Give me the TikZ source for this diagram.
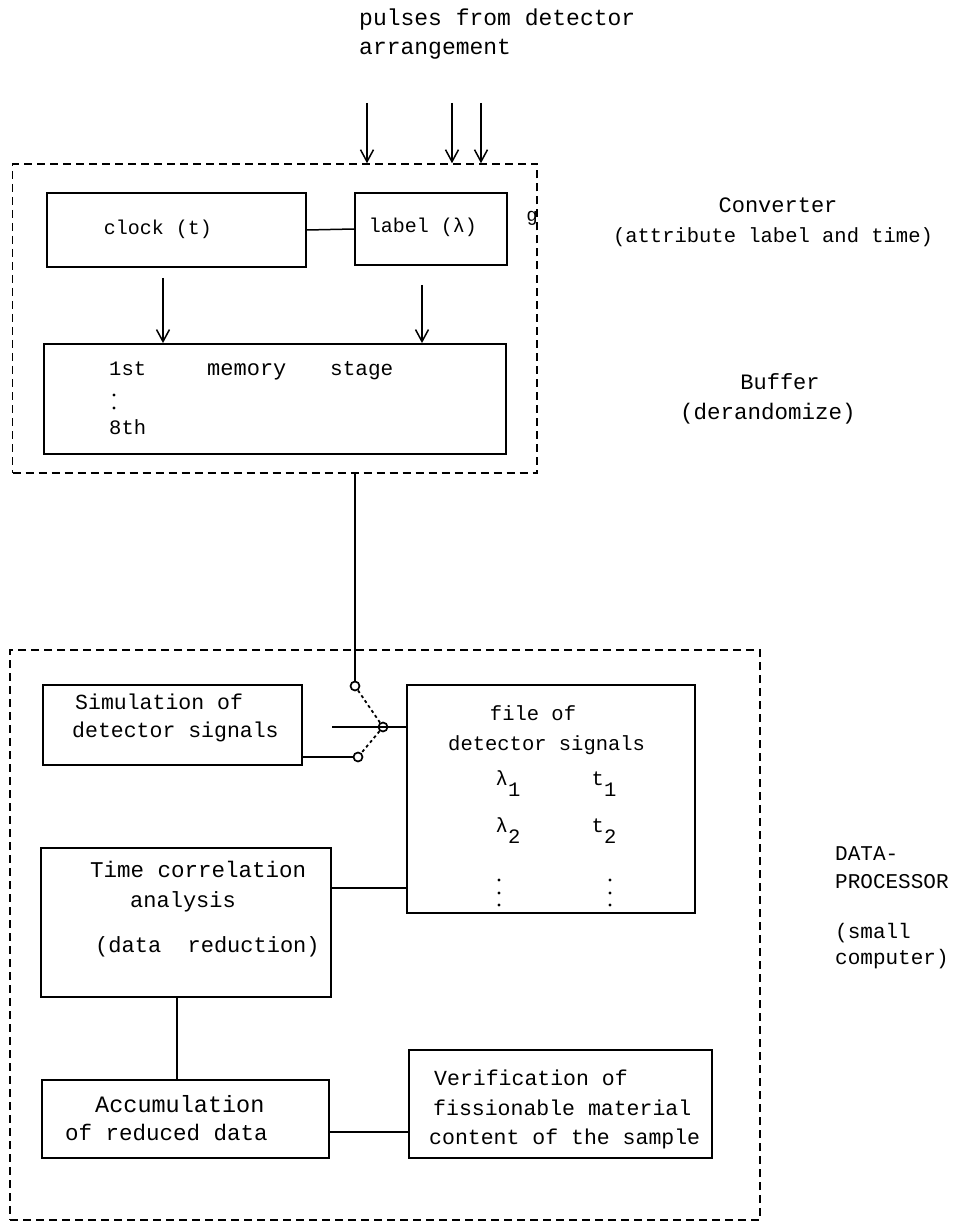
\documentclass[tikz,border=0pt]{standalone}
\usepackage{fontspec}
\setmainfont{Liberation Mono}
\usetikzlibrary{arrows.meta,calc}
\newcommand{\fs}[1]{\fontsize{#1}{#1}\selectfont}
\newcommand{\sbx}[2]{#1\raisebox{-0.55em}{#2}}
\begin{document}
\begin{tikzpicture}[x=1pt,y=-1pt,
  box/.style={draw, line width=1.8pt, inner sep=0pt},
  grp/.style={draw, line width=1.5pt, dash pattern=on 8pt off 5pt, inner sep=0pt},
  wire/.style={line width=1.5pt},
  arr/.style={line width=1.5pt, -{Straight Barb[length=12pt,width=13pt,line width=1.5pt]}},
  sw/.style={line width=1.8pt, dash pattern=on 3pt off 3pt},
  contact/.style={circle, draw, line width=1.7pt, minimum size=9pt, inner sep=0pt},
  txt/.style={inner sep=0pt, font=\fs{21}},
  ltxt/.style={txt, anchor=mid west},
  ctxt/.style={txt, anchor=mid},
  dot/.style={circle, fill, inner sep=0pt, minimum size=3.4pt},
]
\useasboundingbox[fill=white] (0,0) rectangle (971,1222);

% ---------- group boxes ----------
\node[grp, minimum width=524.5pt, minimum height=309pt] (conv) at (274.75,318.5) {};
\node[grp, minimum width=750pt, minimum height=570pt] (proc) at (385,935) {};

% ---------- converter / buffer ----------
\node[box, minimum width=259pt, minimum height=74pt] (clock) at (176.5,230) {};
\node[box, minimum width=152pt, minimum height=72pt] (label) at (431,229) {};
\node[box, minimum width=462.4pt, minimum height=110pt] (mem) at (274.8,399) {};

\node[ctxt, font=\fs{20}] (clockt) at (158,232) {clock (t)};
\node[ctxt, font=\fs{20}] (labelt) at (423,230) {label (λ)};
\node[ltxt, font=\fs{20.5}] (m1) at (109,373) {1st};
\node[ltxt, font=\fs{22}] (m2) at (207,373) {memory};
\node[ltxt, font=\fs{21}] (m3) at (330,373) {stage};
\node[dot] (md1) at (114,395) {};
\node[dot] (md2) at (114,408) {};
\node[ltxt, font=\fs{20.5}] (m8) at (109,432) {8th};
\node[ctxt, font=\fs{19}] (gmark) at (532,219) {g};

\draw[wire] (clock.east) -- (label.west);
\coordinate (ca) at (163,278);
\coordinate (la) at (422,285);
\draw[arr] (ca) -- (ca |- mem.north);
\draw[arr] (la) -- (la |- mem.north);

% ---------- input pulses ----------
\node[ltxt, font=\fs{23}] (pulses) at (359,23) {pulses from detector};
\node[ltxt, font=\fs{23}] (arrg) at (359,52) {arrangement};
\coordinate (p1) at (367,103);
\coordinate (p2) at (452,103);
\coordinate (p3) at (481,103);
\draw[arr] (p1) -- (p1 |- conv.north);
\draw[arr] (p2) -- (p2 |- conv.north);
\draw[arr] (p3) -- (p3 |- conv.north);

% ---------- right labels ----------
\node[ctxt, font=\fs{22}] (convl) at (778,210) {Converter};
\node[ctxt, font=\fs{20.5}] (convl2) at (773,240) {(attribute label and time)};
\node[ctxt, font=\fs{22}] (bufl) at (780,387) {Buffer};
\node[ctxt, font=\fs{22.5}] (bufl2) at (768,417) {(derandomize)};
\node[ltxt, font=\fs{21}] (dp1) at (835,858) {DATA-};
\node[ltxt, font=\fs{21}] (dp2) at (835,886) {PROCESSOR};
\node[ltxt, font=\fs{21}] (dp3) at (835,936) {(small};
\node[ltxt, font=\fs{21}] (dp4) at (835,962) {computer)};

% ---------- data processor ----------
\node[box, minimum width=259pt, minimum height=80pt] (sim) at (172.5,725) {};
\node[box, minimum width=288pt, minimum height=228pt] (file) at (551,799) {};
\node[box, minimum width=290pt, minimum height=149pt] (time) at (186,922.5) {};
\node[box, minimum width=287pt, minimum height=78pt] (acc) at (185.5,1119) {};
\node[box, minimum width=303pt, minimum height=108pt] (ver) at (560.5,1104) {};

\node[ltxt, font=\fs{21.5}] (s1) at (75,707) {Simulation of};
\node[ltxt, font=\fs{21.5}] (s2) at (72,735) {detector signals};

\node[ctxt, font=\fs{20.5}] (f1) at (533,718) {file of};
\node[ltxt, font=\fs{20.5}] (f2) at (448,748) {detector signals};
\node[ctxt, font=\fs{20.5}] (fl1) at (508,783) {\sbx{λ}{1}};
\node[ctxt, font=\fs{20.5}] (ft1) at (604,783) {\sbx{t}{1}};
\node[ctxt, font=\fs{20.5}] (fl2) at (508,830) {\sbx{λ}{2}};
\node[ctxt, font=\fs{20.5}] (ft2) at (604,830) {\sbx{t}{2}};
\foreach \yy [count=\i] in {880,893,905}{
  \node[dot] (fda\i) at (499,\yy) {};
  \node[dot] (fdb\i) at (610,\yy) {};
}

\node[ltxt, font=\fs{22.5}] (t1) at (90,875) {Time correlation};
\node[ltxt, font=\fs{22}] (t2) at (130,905) {analysis};
\node[ltxt, font=\fs{22}] (t3) at (95,950) {(data~~reduction)};

\node[ltxt, font=\fs{23.5}] (a1) at (95,1110) {Accumulation};
\node[ltxt, font=\fs{22.5}] (a2) at (65,1138) {of reduced data};

\node[ltxt, font=\fs{21.5}] (v1) at (434,1083) {Verification of};
\node[ltxt, font=\fs{21.5}] (v2) at (433,1113) {fissionable material};
\node[ltxt, font=\fs{21.5}] (v3) at (429,1142) {content of the sample};

% ---------- switch ----------
\node[contact] (c1) at (355,686) {};
\node[contact] (pv) at (383,727) {};
\node[contact] (c2) at (358,757) {};
\draw[wire] (conv.south -| c1) -- (c1.north);
\draw[sw] (c1) -- (pv);
\draw[sw] (pv) -- (c2);
\coordinate (hs) at (332,727);
\draw[wire] (hs) -- (hs -| file.west);
\draw[wire] (c2 -| sim.east) -- (c2.west);

% ---------- processor connectors ----------
\coordinate (tf) at (331,888);
\draw[wire] (tf -| time.east) -- (tf -| file.west);
\coordinate (ta) at (177,997);
\draw[wire] (ta |- time.south) -- (ta |- acc.north);
\coordinate (av) at (329,1132);
\draw[wire] (av -| acc.east) -- (av -| ver.west);
\end{tikzpicture}
\end{document}
